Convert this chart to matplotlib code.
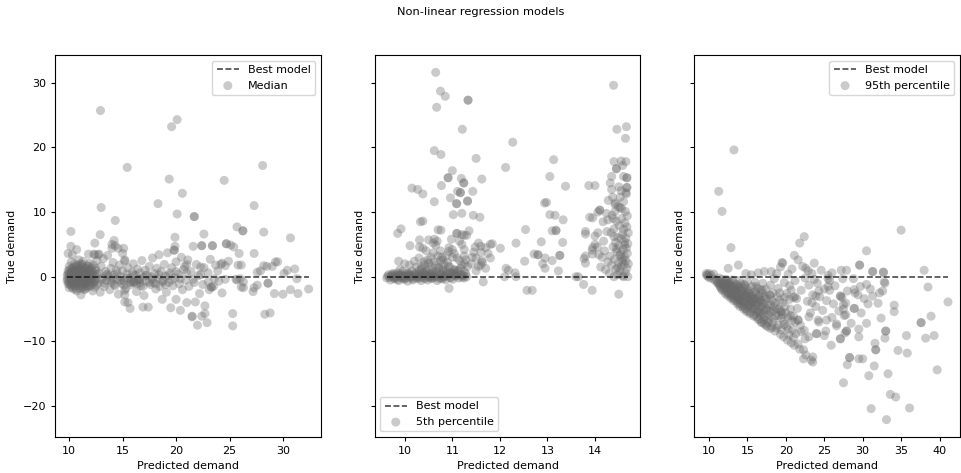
import numpy as np
import matplotlib
matplotlib.use("Agg")
import matplotlib.pyplot as plt

plt.rcParams.update({
    "font.size": 8.0,
    "axes.labelsize": 8.0,
    "xtick.labelsize": 8.0,
    "ytick.labelsize": 8.0,
    "legend.fontsize": 8.0,
    "xtick.major.size": 2.7,
    "ytick.major.size": 2.7,
})

# -----------------------------
# (predicted, true) pairs
# -----------------------------
median_pts = [
    # dense cluster near 10-12.6
    (9.8, 0.2), (9.8, -0.6), (9.9, -1.1), (9.9, 0.9), (10.0, -0.2), (10.0, 1.6), (10.0, -1.7),
    (10.1, 0.4), (10.1, -0.8), (10.2, 2.3), (10.2, -0.1), (10.2, -1.3), (10.3, 0.9), (10.3, 3.4),
    (10.3, -0.5), (10.4, 1.4), (10.4, -1.9), (10.4, 0.1), (10.5, -0.9), (10.5, 0.6), (10.5, 2.0),
    (10.6, -0.3), (10.6, -1.5), (10.6, 1.1), (10.7, 0.3), (10.7, -2.2), (10.7, -0.7), (10.8, 1.8),
    (10.8, 0.0), (10.8, -1.1), (10.9, 0.7), (10.9, -0.4), (10.9, 2.6), (11.0, -1.8), (11.0, 0.2),
    (11.0, 1.3), (11.1, -0.9), (11.1, -2.8), (11.1, 0.5), (11.2, 1.9), (11.2, -0.2), (11.2, -1.4),
    (11.3, 0.8), (11.3, 2.4), (11.4, -0.6), (11.4, 0.1), (11.4, -2.0), (11.5, 1.2), (11.5, -1.1),
    (11.6, 0.4), (11.6, -0.3), (11.7, 1.7), (11.7, -1.6), (11.8, 0.0), (11.8, 0.9), (11.9, -0.8),
    (11.9, 2.1), (12.0, -1.3), (12.0, 0.3), (12.1, 1.4), (12.1, -0.5), (12.2, -2.2), (12.2, 0.7),
    (12.3, -0.9), (12.3, 3.5), (12.4, 0.2), (12.4, -1.6), (12.5, 1.0), (12.5, -0.4), (12.6, 2.5),
    (10.0, 0.4), (10.2, -0.6), (10.4, 0.5), (10.6, -0.1), (10.8, 0.6), (11.0, -0.5), (11.2, 0.3),
    (11.4, -0.9), (11.6, 0.9), (11.8, -0.6), (10.3, -1.0), (10.7, 1.5), (11.1, 1.7), (11.5, -1.9),
    (9.9, 3.6), (10.16, 4.7), (10.16, 7.0), (10.7, 4.2), (11.8, 3.5), (12.4, 5.2), (12.9, 6.5),
    (12.8, 3.5), (12.4, 3.4), (12.7, 3.4),
    # band 12.6-20
    (12.7, -1.1), (12.8, 0.5), (12.9, -2.4), (13.0, 1.6), (13.1, -0.2), (13.2, 2.8), (13.3, -1.5),
    (13.4, 0.8), (13.5, -0.6), (13.6, 3.3), (13.7, 0.1), (13.8, -2.0), (13.9, 1.3), (14.0, -0.9),
    (14.1, 2.2), (14.2, 0.3), (14.3, -1.4), (14.4, 1.0), (14.5, -0.4), (14.6, -2.7), (14.7, 1.8),
    (14.8, 0.0), (14.9, -1.0), (15.0, 0.9), (15.1, -0.6), (15.2, 2.4), (15.3, -1.8), (15.4, 0.4),
    (15.5, -4.0), (15.5, 1.4), (15.6, -0.3), (15.7, -4.9), (15.8, -1.2), (15.9, 0.7), (16.0, 2.0),
    (16.1, -0.8), (16.2, 0.2), (16.3, -2.3), (16.4, 1.2), (16.5, -0.5), (16.6, 0.6), (16.7, -1.4),
    (16.8, 2.5), (16.9, -0.1), (17.0, -2.9), (17.1, 1.0), (17.2, -0.7), (17.3, 0.3), (17.4, -4.7),
    (17.5, 1.6), (17.6, -1.2), (17.7, 0.0), (17.8, 2.9), (17.9, -0.9), (18.0, 0.5), (18.1, -1.9),
    (18.2, 1.3), (18.3, -0.3), (18.4, 3.4), (18.5, -1.5), (18.6, 0.8), (18.7, -3.5), (18.8, -0.6),
    (18.9, 1.9), (19.0, 0.1), (19.1, -2.4), (19.2, 3.7), (19.3, -0.9), (19.4, 0.6), (19.5, -4.8),
    (19.6, 1.4), (19.7, -1.4), (19.8, 4.1), (19.9, -0.2), (20.0, -3.5), (20.0, 2.3),
    (15.2, 2.6), (15.2, -2.1), (15.2, -2.8), (15.2, -3.9), (16.9, -4.7), (15.1, 4.4), (15.0, 3.6),
    (14.0, 5.0), (14.0, 4.4), (14.3, 4.8), (14.2, 5.6), (14.58, 4.4), (16.0, -0.9), (16.4, -0.4),
    (15.8, -0.7), (16.6, -1.0), (13.5, 0.3), (14.1, -0.2),
    # sparse region 20-32
    (20.2, 0.4), (20.3, -1.1), (20.4, -5.2), (20.5, 3.0), (20.6, -2.0), (20.7, 1.1), (20.9, -0.5),
    (21.0, -4.0), (21.1, 2.6), (21.2, -1.5), (21.4, 0.8), (21.5, -6.1), (21.6, 4.7), (21.7, -0.9),
    (21.8, -3.9), (21.9, 1.9), (22.0, -7.5), (22.1, 0.2), (22.2, -2.6), (22.4, -6.1), (22.4, 4.8),
    (22.5, -1.2), (22.6, 1.4), (22.7, -4.5), (22.9, -7.1), (23.0, 0.6), (23.1, -2.0), (23.2, 2.7),
    (23.4, 4.8), (23.5, -1.5), (23.6, -0.3), (23.7, 1.8), (23.9, 0.9), (24.0, -0.7), (24.2, 1.9),
    (24.3, 2.1), (24.3, -2.5), (24.6, -0.4), (24.7, 5.1), (24.9, 2.4), (25.1, 4.9), (25.3, -5.7),
    (25.3, -7.6), (25.4, 4.6), (25.6, -0.4), (25.7, 7.7), (25.8, 1.8), (25.9, 3.6), (26.0, -0.3),
    (26.1, 1.8), (26.1, -1.6), (26.25, 7.1), (26.25, 7.1), (26.3, -1.7), (26.3, -0.8), (27.2, -2.3),
    (27.3, 11.0), (27.3, 3.6), (27.3, -1.7), (27.6, -1.3), (27.6, 0.7), (27.9, 0.9), (28.1, 17.2),
    (28.2, 6.9), (28.2, 1.7), (28.5, 1.6), (28.6, -1.0), (28.6, -1.0), (28.3, -5.8), (28.8, -5.6),
    (29.0, 1.6), (29.3, 2.3), (29.5, 2.3), (29.2, -2.6), (30.0, -2.7), (30.1, 0.5), (30.4, 1.0),
    (30.7, 6.0), (30.7, -2.0), (31.1, 1.2), (31.3, -0.3), (31.4, -2.6), (32.4, -1.9), (23.3, -1.6),
    (23.3, -1.6), (21.5, -6.2), (22.7, -5.7), (25.7, -0.5),
    # outliers
    (12.93, 25.7), (15.43, 16.9), (12.99, 10.7), (14.31, 8.7), (19.58, 23.2), (20.1, 24.3),
    (19.36, 15.1), (20.59, 12.9), (18.31, 11.3), (20.1, 9.7), (21.7, 9.3), (21.7, 9.3),
    (19.9, 6.1), (22.6, 6.6), (24.7, 5.1), (24.5, 14.9), (19.9, 4.7), (19.85, 4.1), (22.4, 4.8),
    (23.4, 4.8), (20.8, 1.6), (21.0, 1.9), (22.3, 1.5), (24.6, 1.7),
]

# extra points where the median cloud is darkest
median_dense = [
    (9.85, -0.3), (9.9, 0.5), (9.95, -0.8), (10.05, 1.1), (10.05, -1.2), (10.1, 0.0), (10.15, 0.8),
    (10.15, -0.5), (10.25, 1.3), (10.25, -1.6), (10.3, 0.4), (10.35, -0.2), (10.4, 0.9),
    (10.45, -1.2), (10.5, 0.3), (10.55, 1.6), (10.55, -0.6), (10.6, 0.7), (10.65, -1.9),
    (10.7, -0.2), (10.75, 1.0), (10.8, -0.8), (10.85, 0.4), (10.9, -1.4), (10.95, 1.2), (11.0, -0.1),
    (11.05, 0.8), (11.05, -1.0), (11.1, 2.0), (11.15, -0.4), (11.2, 0.6), (11.25, -1.7), (11.3, 0.0),
    (11.35, 1.4), (11.4, -0.4), (11.45, 0.6), (11.5, -1.5), (11.55, 0.2), (11.6, 1.3), (11.65, -0.8),
    (11.7, 0.5), (11.75, -1.2), (11.8, 1.6), (11.85, -0.2), (11.9, 0.4), (11.95, -1.5), (12.0, 1.1),
    (12.05, -0.3), (12.1, 0.6), (12.2, -1.0), (12.25, 1.8), (12.3, 0.0), (12.4, -0.6), (12.45, 1.3),
    (12.55, -1.3), (12.6, 0.4),
    (13.0, -0.4), (13.3, -1.0), (13.6, 0.4), (13.9, -0.6), (14.2, -1.2), (14.5, 0.5), (14.8, -0.6),
    (15.1, -1.3), (15.4, -0.2), (15.7, -0.9), (16.0, 0.3), (16.3, -1.1), (16.6, -0.4), (16.9, -1.5),
    (17.2, 0.2), (17.5, -0.9), (17.8, -0.4), (18.1, -1.1), (18.4, 0.3), (18.7, -0.8), (19.0, -1.2),
    (19.3, 0.2), (19.6, -0.5), (20.0, 0.8), (20.4, -0.3), (21.0, 0.6), (21.6, -0.4), (22.3, 0.3),
    (23.0, -0.8),
]

p05_pts = [
    # tight band near zero, 9.6-11.3
    (9.62, -0.2), (9.66, 0.3), (9.70, -0.5), (9.72, 0.1), (9.76, 0.5), (9.78, -0.3), (9.82, 0.0),
    (9.85, 0.6), (9.87, -0.6), (9.90, 0.2), (9.93, -0.2), (9.96, 0.8), (9.98, -0.4), (10.01, 0.1),
    (10.04, 0.5), (10.06, -0.7), (10.09, 0.3), (10.12, -0.1), (10.15, 0.9), (10.17, -0.5),
    (10.20, 0.2), (10.23, 0.6), (10.26, -0.3), (10.28, 0.0), (10.31, 1.0), (10.34, -0.6),
    (10.37, 0.4), (10.40, -0.2), (10.42, 0.7), (10.45, 0.1), (10.48, -0.5), (10.51, 1.2),
    (10.54, 0.3), (10.56, -0.3), (10.59, 0.8), (10.62, -0.1), (10.65, 0.5), (10.68, -0.6),
    (10.71, 1.4), (10.74, 0.2), (10.77, -0.2), (10.80, 0.9), (10.83, 0.0), (10.86, -0.5),
    (10.89, 0.6), (10.92, 1.6), (10.95, -0.1), (10.98, 0.4), (11.01, -0.4), (11.04, 1.1),
    (11.07, 0.2), (11.10, 0.7), (11.13, -0.2), (11.17, 1.3), (11.21, 0.3), (11.25, 0.8),
    (11.30, 0.0), (9.75, 0.2), (9.95, 0.0), (10.1, 0.4), (10.25, -0.1), (10.35, 0.1), (10.5, 0.0),
    (10.6, 0.3), (10.7, 0.0), (10.85, 0.3), (10.95, 0.6), (10.15, 0.0), (9.88, 0.3), (10.0, -0.3),
    (10.45, 0.4), (10.58, -0.2), (9.8, -0.1), (10.05, 0.2), (10.3, 0.3), (10.55, 0.1), (10.8, -0.3),
    (11.05, 0.4), (11.2, -0.1),
    # scatter above the band
    (9.85, 6.7), (9.92, 7.4), (10.33, 8.5), (10.11, 4.8), (10.31, 5.7), (10.31, 4.6), (10.38, 4.4),
    (10.45, 4.0), (10.7, 7.25), (10.5, 5.7), (10.62, 5.8), (10.68, 5.5), (10.6, 3.7), (10.75, 4.0),
    (10.1, 1.8), (10.2, 2.4), (9.87, 2.4), (9.9, 1.1), (10.0, 2.0), (10.25, 1.5), (10.35, 1.2),
    (10.42, 1.9), (10.48, 2.6), (10.55, 1.6), (10.62, 2.3), (10.72, 1.3), (10.78, 3.0), (10.82, 2.0),
    (10.88, 3.3), (10.93, 4.5), (10.98, 5.8), (11.04, 3.6), (11.1, 6.7), (11.15, 2.5), (11.2, 5.0),
    (11.25, 4.2), (11.3, 6.4), (11.32, 1.6), (11.28, 2.6), (11.35, 7.1), (11.42, 3.0), (11.48, 4.6),
    (11.45, 3.8), (11.55, 5.2), (11.6, 4.7), (11.4, 2.0), (11.55, 1.6), (11.62, 2.5), (11.65, -0.8),
    (10.93, -1.8), (11.25, -0.2), (12.1, 0.0), (11.5, 0.9), (11.7, 1.3), (11.8, 2.9), (11.75, 3.6),
    (10.6, 5.2), (10.65, 4.9), (10.92, 3.9), (11.0, 4.2), (11.15, 5.5), (11.25, 3.2), (10.8, 1.2),
    (10.55, 3.0), (10.3, 2.9), (10.45, 0.9), (10.75, 2.5), (11.05, 1.0), (11.2, 1.8), (10.9, 2.2),
    # upper outliers 10-12.5
    (10.65, 31.6), (10.75, 28.7), (10.85, 27.9), (10.67, 26.2), (11.33, 27.3), (11.33, 27.3),
    (11.21, 22.8), (10.62, 19.5), (10.76, 18.9), (11.5, 18.3), (12.27, 20.8), (12.12, 16.9),
    (11.0, 16.4), (10.91, 15.3), (10.91, 15.3), (10.77, 14.1), (11.19, 15.2), (11.24, 14.5),
    (11.24, 14.5), (11.62, 15.1), (10.15, 13.7), (10.27, 13.5), (10.38, 12.8), (10.62, 11.6),
    (10.96, 12.2), (11.11, 13.2), (11.17, 13.0), (11.17, 13.0), (11.43, 13.2), (11.09, 11.3),
    (11.09, 11.3), (11.32, 11.7), (11.32, 11.7), (11.2, 9.8), (11.02, 9.6), (11.44, 9.5),
    (11.58, 9.2), (10.38, 8.6), (10.76, 7.2), (11.09, 6.7), (11.2, 6.5), (11.25, 6.4),
    (11.84, 5.1), (12.01, 4.4), (12.34, 5.2), (12.54, 7.3), (11.6, 1.8), (11.63, 2.2), (11.7, 4.5),
    (11.8, 5.0), (11.6, 3.8), (11.5, 2.9),
    # middle 12-13.5
    (12.13, 1.3), (12.18, 1.0), (12.32, 0.6), (12.34, 0.0), (12.52, 2.4), (12.57, -2.1),
    (12.68, -2.1), (12.72, 3.5), (12.8, 3.4), (12.8, 3.4), (12.87, 5.4), (12.95, 2.9), (12.95, 1.3),
    (13.05, 15.5), (13.13, 18.1), (12.98, 11.5), (12.94, 11.4), (13.05, 9.6), (13.16, 9.5),
    (13.33, 8.8), (13.38, 14.0), (13.1, 7.1), (13.18, 7.1), (13.18, 7.2), (13.32, 5.3),
    (13.26, 3.3), (13.26, 3.3), (13.23, 0.9), (13.1, 2.5), (12.9, 2.0),
    # right cluster 13.6-14.7
    (13.6, 0.0), (13.65, 0.0), (13.76, -1.2), (13.94, -2.1), (14.5, -2.7), (13.77, 2.8), (13.8, 2.1),
    (13.94, 4.1), (14.0, 6.3), (14.0, 5.0), (13.8, 7.0), (13.8, 6.6), (13.95, 9.1), (14.1, 10.3),
    (14.1, 10.3), (14.17, 8.5), (14.27, 8.8), (13.87, 14.1), (14.0, 14.1), (13.89, 9.2),
    (14.06, 10.0), (14.06, 6.8), (13.95, 4.5), (13.95, 3.5), (13.8, 3.2),
    (14.39, 29.6), (14.46, 22.8), (14.66, 23.2), (14.64, 21.4), (14.4, 17.8), (14.55, 17.9),
    (14.65, 17.8), (14.45, 16.7), (14.45, 16.7), (14.58, 17.2), (14.35, 15.5), (14.6, 15.5),
    (14.67, 15.3), (14.67, 15.3), (14.67, 13.8), (14.67, 13.8), (14.65, 13.0), (14.35, 13.5),
    (14.37, 12.3), (14.5, 13.9), (14.55, 13.3), (14.43, 11.4), (14.53, 10.7), (14.42, 10.1),
    (14.56, 10.5),
    (14.30, 0.5), (14.32, 3.2), (14.34, 6.8), (14.35, 1.8), (14.36, 9.5), (14.38, 4.6), (14.40, 0.0),
    (14.40, 7.4), (14.41, 2.7), (14.42, 11.2), (14.43, 5.3), (14.44, 1.2), (14.45, 8.6),
    (14.46, 3.9), (14.47, 0.3), (14.48, 6.1), (14.49, 10.8), (14.50, 2.2), (14.50, 4.8),
    (14.51, 7.9), (14.52, 0.9), (14.53, 12.3), (14.54, 3.5), (14.55, 5.9), (14.55, 1.6),
    (14.56, 9.0), (14.57, 2.9), (14.58, 6.6), (14.58, 0.2), (14.59, 4.2), (14.60, 11.6),
    (14.60, 7.3), (14.61, 1.9), (14.62, 3.1), (14.62, 5.4), (14.63, 8.3), (14.64, 0.6),
    (14.64, 10.1), (14.65, 2.5), (14.65, 6.0), (14.66, 4.4), (14.66, 12.8), (14.67, 1.3),
    (14.67, 7.7), (14.68, 3.6), (14.68, 9.4), (14.69, 5.1), (14.69, 0.0), (14.70, 2.0),
    (14.70, 6.8), (14.20, 4.0), (14.22, 1.1), (14.25, 7.0), (14.27, 2.3), (14.15, 3.0),
    (14.18, 5.5), (14.28, 11.8), (14.32, 14.5), (14.38, 9.0), (14.12, 1.5), (14.05, 4.6),
    (14.08, 3.4), (14.24, 9.8), (14.45, 4.3), (14.52, 3.3), (14.58, 2.4), (14.62, 4.9),
    (14.48, 1.4), (14.6, 0.0), (14.4, 6.2),
]

# extra points where the 5th percentile band is darkest
p05_dense = [
    (9.64, 0.1), (9.68, -0.1), (9.73, 0.4), (9.77, -0.2), (9.81, 0.3), (9.84, -0.4), (9.89, 0.0),
    (9.92, 0.4), (9.97, 0.1), (10.02, -0.2), (10.07, 0.6), (10.11, 0.1), (10.16, -0.3), (10.21, 0.4),
    (10.27, 0.3), (10.32, -0.2), (10.38, 0.7), (10.43, -0.3), (10.47, 0.3), (10.52, -0.1),
    (10.57, 0.5), (10.63, 0.1), (10.67, 0.8), (10.72, -0.3), (10.76, 0.4), (10.81, 0.1),
    (10.87, 0.9), (10.91, 0.2), (10.97, -0.2), (11.02, 0.6), (11.08, 0.1), (11.12, 1.0),
    (11.18, 0.3), (11.24, 0.1), (11.28, 0.5),
    (10.35, 1.6), (10.5, 2.1), (10.65, 1.8), (10.8, 2.6), (10.95, 1.5), (11.1, 2.9), (11.25, 2.0),
    (10.7, 3.2), (11.0, 3.0), (10.4, 2.3),
]

p95_pts = [
    # start of the band near zero
    (9.66, 0.5), (9.7, 0.2), (9.8, 0.3), (9.9, 0.0), (10.0, 0.5), (10.1, -0.2), (10.3, 0.2),
    (10.5, -0.3), (10.6, 0.4), (10.8, -0.6),
    # dense triangle
    (11.0, -0.5), (11.1, -1.0), (11.3, -0.2), (11.4, -1.4), (11.5, -0.8), (11.6, -1.8), (11.7, -0.4),
    (11.8, -1.2), (11.9, -2.0), (12.0, -0.9), (12.1, -1.6), (12.2, -2.3), (12.3, -0.6), (12.4, -1.3),
    (12.5, -2.6), (12.6, -1.9), (12.7, -0.8), (12.8, -2.9), (12.9, -1.5), (13.0, -2.4), (13.0, -3.2),
    (13.1, -0.7), (13.2, -1.8), (13.3, -3.4), (13.4, -2.5), (13.5, -1.2), (13.5, -3.7), (13.6, -2.1),
    (13.7, -3.0), (13.8, -4.0), (13.8, -1.6), (13.9, -2.7), (14.0, -3.5), (14.1, -4.3), (14.1, -1.1),
    (14.2, -2.3), (14.3, -3.9), (14.4, -4.6), (14.4, -2.9), (14.5, -1.7), (14.6, -3.4), (14.7, -4.9),
    (14.7, -2.4), (14.8, -4.1), (14.9, -3.0), (15.0, -5.2), (15.0, -1.9), (15.1, -3.8), (15.2, -4.6),
    (15.3, -2.6), (15.4, -5.5), (15.4, -3.3), (15.5, -4.2), (15.6, -1.5), (15.7, -5.0), (15.7, -2.9),
    (15.8, -3.9), (15.9, -5.9), (16.0, -4.5), (16.0, -2.3), (16.1, -3.5), (16.2, -6.2), (16.3, -5.1),
    (16.3, -1.8), (16.4, -4.0), (16.5, -2.9), (16.6, -6.6), (16.6, -5.4), (16.7, -3.6), (16.8, -4.7),
    (16.9, -7.0), (16.9, -2.5), (17.0, -5.8), (17.1, -4.1), (17.2, -7.3), (17.2, -3.2), (17.3, -6.2),
    (17.4, -1.9), (17.5, -5.1), (17.6, -7.7), (17.7, -4.3), (17.8, -6.6), (17.9, -2.8), (18.0, -8.0),
    (18.1, -5.5), (18.2, -3.7), (18.3, -7.1), (18.5, -4.6), (18.6, -8.4), (18.7, -6.0), (18.9, -3.1),
    (19.0, -7.5), (19.1, -5.0), (19.3, -8.9), (19.4, -6.4), (19.6, -4.0), (19.7, -9.3), (19.8, -7.4),
    (20.0, -5.6), (20.2, -9.8), (20.3, -8.1), (20.5, -3.5), (20.7, -10.2), (20.8, -6.8),
    (21.1, -10.6), (21.3, -8.8), (21.5, -4.9), (21.8, -11.2), (21.9, -7.5), (22.3, -12.7),
    (22.3, -11.3), (22.5, -9.6),
    (11.2, -0.9), (11.6, -1.1), (12.0, -1.7), (12.3, -1.4), (12.6, -2.6), (12.9, -2.2), (13.1, -2.8),
    (13.4, -1.7), (13.6, -3.2), (13.9, -3.6), (14.2, -3.1), (14.5, -3.9), (14.8, -2.8), (15.1, -4.4),
    (15.3, -3.7), (15.6, -4.7), (15.9, -3.3), (16.2, -4.3), (16.5, -5.5), (16.8, -3.9), (17.1, -5.2),
    (17.4, -4.8), (17.7, -5.9), (18.0, -4.2), (18.4, -5.3), (18.8, -4.9), (19.2, -3.6), (19.5, -5.8),
    (19.9, -4.6), (20.3, -6.3), (20.6, -5.0), (21.0, -6.1), (21.4, -3.4), (12.2, -0.4), (13.0, -0.5),
    (14.0, -0.6), (15.0, -0.8), (16.0, -0.9), (17.0, -1.0), (18.0, -1.3), (12.5, -1.1), (13.3, -2.1),
    (14.3, -2.0), (15.2, -2.2), (16.1, -2.7), (16.7, -2.0), (11.9, -0.7), (12.7, -1.4), (13.7, -1.3),
    (14.6, -1.2), (15.5, -3.0), (16.4, -3.3), (17.3, -3.0), (18.3, -2.5),
    # upper points and outliers
    (13.25, 19.6), (11.26, 13.2), (11.7, 10.1), (12.86, 4.5), (13.82, 1.8), (12.5, 1.3),
    (21.1, 3.3), (17.2, 0.8), (16.4, 0.6), (15.5, 0.3), (14.8, 0.5), (18.1, 0.8), (19.5, 2.2),
    # spread 18-41
    (18.5, -0.3), (18.8, 0.5), (19.0, -1.8), (19.3, 1.5), (19.6, 2.1), (19.8, -0.9), (20.1, -2.6),
    (20.3, 0.4), (20.5, -1.4), (20.8, 1.2), (21.0, -3.2), (21.2, -0.6), (21.6, 2.6), (21.8, 5.2),
    (22.0, -2.1), (22.2, 1.6), (22.4, 6.2), (22.5, -0.2), (22.6, 1.3), (22.8, -3.8), (23.0, -1.3),
    (23.2, -5.6), (23.4, 0.5), (23.5, -2.8), (23.7, 2.1), (23.9, -4.6), (24.1, -1.0), (24.3, -7.0),
    (24.4, -3.1), (24.6, 1.0), (24.8, -5.2), (25.0, -1.9), (25.2, -8.4), (25.3, -3.7), (25.5, 0.2),
    (25.7, -0.6), (25.7, -2.1), (25.9, -10.6), (26.0, -6.3), (26.2, -4.2), (26.4, -1.4),
    (26.6, -7.6), (26.9, -5.3), (27.1, -9.6), (27.1, -9.6), (27.2, 1.0), (27.3, -3.2), (27.4, -0.3),
    (27.5, -16.4), (27.5, -4.3), (27.6, -6.0), (27.7, -8.7), (27.9, 1.0), (28.0, -13.6),
    (28.0, -2.2), (28.3, -12.5), (28.3, -12.5), (28.5, -7.2), (28.8, -0.3), (28.9, -4.9),
    (28.9, -4.9), (29.0, -2.5), (29.4, -2.8), (29.5, -8.1), (29.5, -9.3), (29.5, -12.7),
    (29.6, 1.8), (29.6, 1.8), (29.8, -5.6), (30.0, -12.7), (30.2, -3.4), (30.5, 4.0), (30.5, -7.2),
    (30.8, -15.3), (31.0, -1.9), (31.1, -20.4), (31.3, 0.8), (31.3, 0.8), (31.5, -13.8),
    (31.6, -10.3), (31.7, -11.3), (31.7, -11.3), (32.0, -4.1), (32.4, -6.4), (32.6, -2.2),
    (32.7, 0.7), (32.7, 0.7), (32.8, -0.8), (32.9, -1.0), (32.9, -9.5), (33.0, -8.4), (33.0, -8.4),
    (33.1, -22.1), (33.3, -15.0), (33.6, -18.2), (34.1, -4.4), (34.1, -5.4), (34.3, -18.6),
    (34.6, -11.4), (35.0, 7.2), (35.7, -9.1), (35.8, -11.8), (36.1, -20.3), (37.6, -7.1),
    (37.6, -7.1), (38.0, 1.0), (38.2, -9.5), (38.5, -1.6), (38.9, -6.1), (39.3, -9.1),
    (39.7, -14.4), (41.1, -3.9),
    (19.4, -5.4), (19.4, -5.4), (20.7, -2.1), (21.2, -3.1), (21.6, -6.7), (21.6, -6.7), (22.4, -8.3),
    (24.0, -8.8), (24.0, -8.8), (25.0, -9.1), (24.2, -6.7), (25.3, -6.7), (23.4, -4.0), (23.9, -3.0),
    (24.3, -2.2), (25.5, -1.5), (25.5, -0.3), (27.1, -3.0), (27.1, -3.0), (27.5, -5.0),
    (27.8, -4.1), (28.9, -2.0), (29.7, -1.5), (30.5, -1.2), (31.3, -3.0), (32.2, -2.5),
    (30.7, -4.2), (27.8, -5.9), (26.6, -7.3), (27.9, -8.4), (27.9, -8.4), (22.9, 0.9), (23.7, -0.4),
    (26.0, 0.6), (23.0, -6.2), (20.9, -8.2),
]

# extra points where the 95th percentile triangle is darkest
p95_dense = [
    (11.3, -1.1), (11.5, -1.6), (11.7, -2.1), (11.9, -1.1), (12.1, -2.6), (12.3, -1.9), (12.4, -2.9),
    (12.6, -1.0), (12.8, -3.3), (12.9, -2.6), (13.1, -1.4), (13.2, -3.7), (13.4, -3.0), (13.5, -2.0),
    (13.7, -4.2), (13.8, -2.4), (14.0, -1.6), (14.0, -4.6), (14.2, -3.6), (14.3, -2.6), (14.5, -5.0),
    (14.6, -4.4), (14.7, -1.4), (14.9, -5.4), (15.0, -3.3), (15.1, -2.5), (15.3, -5.7), (15.4, -4.1),
    (15.6, -3.6), (15.8, -6.1), (15.9, -4.9), (16.1, -1.5), (16.2, -5.5), (16.4, -6.6), (16.5, -3.9),
    (16.7, -5.9), (16.8, -7.1), (17.0, -4.5), (17.0, -2.1), (17.2, -6.6), (17.4, -7.5), (17.5, -3.4),
    (17.7, -7.0), (17.9, -5.3), (18.0, -2.9), (18.2, -7.8), (18.4, -6.5), (18.6, -4.1), (18.8, -7.9),
    (19.0, -6.0), (19.2, -2.5), (19.4, -8.2), (19.7, -6.9), (19.9, -3.2), (20.1, -7.7), (20.4, -9.0),
    (20.6, -6.0), (21.0, -9.4), (21.2, -7.0), (21.6, -10.4), (22.0, -8.5), (22.6, -12.1),
    (23.0, -9.3), (23.5, -12.4), (23.5, -13.2), (23.3, -12.9),
]

panels = [
    ("Median", median_pts + median_dense, "upper right"),
    ("5th percentile", p05_pts + p05_dense, "lower left"),
    ("95th percentile", p95_pts + p95_dense, "upper right"),
]

fig, axes = plt.subplots(1, 3, figsize=(9.61, 4.73), dpi=100, sharey=True)
fig.subplots_adjust(left=0.0572, right=0.999, bottom=0.0761, top=0.8837, wspace=0.203)

for ax, (label, pts, loc) in zip(axes, panels):
    pts = np.array(pts)
    pred, true = pts[:, 0], pts[:, 1]
    ax.plot([pred.min(), pred.max()], [0, 0], "k--", alpha=0.75, lw=1.15, label="Best model")
    ax.scatter(pred, true, color="dimgray", alpha=0.35, s=42, edgecolors="none", label=label)
    ax.set_xlabel("Predicted demand")
    ax.set_ylabel("True demand")
    ax.legend(loc=loc)

fig.suptitle("Non-linear regression models", fontsize=8.2, y=0.985)

fig.savefig("out.png", dpi=100)
